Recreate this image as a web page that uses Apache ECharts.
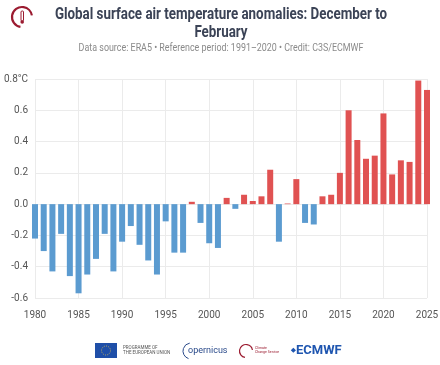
<!DOCTYPE html>
<html><head><meta charset="utf-8">
<script src="https://cdn.jsdelivr.net/npm/echarts@6/dist/echarts.min.js"></script>
<style>html,body{margin:0;padding:0;background:#fff}#c{width:440px;height:365px}</style>
</head><body><div id="c"></div>
<script>
const years = [1980,1981,1982,1983,1984,1985,1986,1987,1988,1989,1990,1991,1992,1993,1994,1995,1996,1997,1998,1999,2000,2001,2002,2003,2004,2005,2006,2007,2008,2009,2010,2011,2012,2013,2014,2015,2016,2017,2018,2019,2020,2021,2022,2023,2024,2025];
const anomalies = [-0.22,-0.30,-0.43,-0.19,-0.46,-0.57,-0.45,-0.35,-0.19,-0.43,-0.24,-0.14,-0.26,-0.36,-0.45,-0.11,-0.31,-0.31,0.015,-0.12,-0.25,-0.28,0.04,-0.03,0.06,0.02,0.05,0.22,-0.24,0.004,0.16,-0.12,-0.13,0.05,0.06,0.20,0.60,0.41,0.29,0.31,0.58,0.19,0.28,0.27,0.79,0.73];
const yTicks = [-0.6,-0.4,-0.2,0.0,0.2,0.4,0.6,0.8];
const titleLine1 = 'Global surface air temperature anomalies: December to';
const titleLine2 = 'February';
const subtitleText = 'Data source: ERA5 \u2022 Reference period: 1991\u20132020 \u2022 Credit: C3S/ECMWF';

const chart = echarts.init(document.getElementById('c'), null, {renderer:'canvas'});
const F = 'Roboto, "Noto Sans", sans-serif';
const tStyle = {font:'bold 16px '+F, fill:'#3b4356', textAlign:'center', textVerticalAlign:'middle'};
chart.setOption({
  animation:false,
  backgroundColor:'#fff',
  graphic:[
    {type:'text', x:221, y:15, scaleX:0.835, style:Object.assign({text:titleLine1}, tStyle)},
    {type:'text', x:221, y:33, scaleX:0.835, style:Object.assign({text:titleLine2}, tStyle)},
    {type:'text', x:221, y:48, scaleX:0.81, style:{text:subtitleText, font:'11px '+F, fill:'#8a8a8a', textAlign:'center', textVerticalAlign:'middle'}},
    // title icon
    {type:'arc', shape:{cx:22, cy:17, r:10, startAngle:Math.PI*0.55, endAngle:Math.PI*1.95}, style:{stroke:'#9b1b30', lineWidth:2.2, fill:null}},
    {type:'rect', shape:{x:21, y:11, width:2.5, height:10, r:1}, style:{fill:'none', stroke:'#9b1b30', lineWidth:1}},
    {type:'circle', shape:{cx:22.2, cy:22, r:1.8}, style:{fill:'#9b1b30'}},
    // footer logos
    {type:'rect', shape:{x:95, y:343, width:22, height:15}, style:{fill:'#1f4fa8'}},
    {type:'circle', shape:{cx:106, cy:350.5, r:4.5}, style:{fill:null, stroke:'#e6c34a', lineWidth:0.8, lineDash:[1,1.3]}},
    {type:'text', x:123, y:345, style:{text:'PROGRAMME OF\nTHE EUROPEAN UNION', font:'4.5px '+F, fill:'#555', lineHeight:5}},
    {type:'arc', shape:{cx:191, cy:351, r:8, startAngle:Math.PI*0.6, endAngle:Math.PI*1.45}, style:{stroke:'#2a4a8a', lineWidth:1, fill:null}},
    {type:'text', x:188, y:346, style:{text:'opernicus', font:'9px '+F, fill:'#2a4a8a'}},
    {type:'arc', shape:{cx:246, cy:351, r:6.5, startAngle:Math.PI*0.55, endAngle:Math.PI*1.95}, style:{stroke:'#9b1b30', lineWidth:1.2, fill:null}},
    {type:'text', x:255, y:346, style:{text:'Climate\nChange Service', font:'3.5px '+F, fill:'#9b1b30', lineHeight:4}},
    {type:'text', x:291, y:344, style:{text:'\u2b29ECMWF', font:'bold 13px '+F, fill:'#1f56b0'}}
  ],
  grid:{left:35, right:13, top:79, bottom:67, containLabel:false, outerBoundsMode:'none'},
  xAxis:{
    type:'value', min:1980, max:2025, interval:5,
    axisLine:{show:false}, axisTick:{show:false},
    axisLabel:{fontFamily:F, fontSize:10, color:'#555', margin:12, formatter:v=>String(v)},
    splitLine:{show:true, lineStyle:{color:'#ebebeb', width:1}}
  },
  yAxis:{
    type:'value', min:yTicks[0], max:yTicks[yTicks.length-1], interval:0.2,
    axisLine:{show:false}, axisTick:{show:false},
    axisLabel:{fontFamily:F, fontSize:10, color:'#555', margin:7,
      formatter:v=>{const s=v.toFixed(1); return Math.abs(v-0.8)<1e-6 ? s+'\u00b0C' : s;}},
    splitLine:{show:true, lineStyle:{color:'#ebebeb', width:1}}
  },
  series:[{
    type:'bar', barWidth:6,
    data: years.map((y,i)=>[y, anomalies[i]]),
    itemStyle:{color:p=> p.value[1] >= 0 ? '#e05252' : '#5b9bd0'}
  }]
});
</script></body></html>
